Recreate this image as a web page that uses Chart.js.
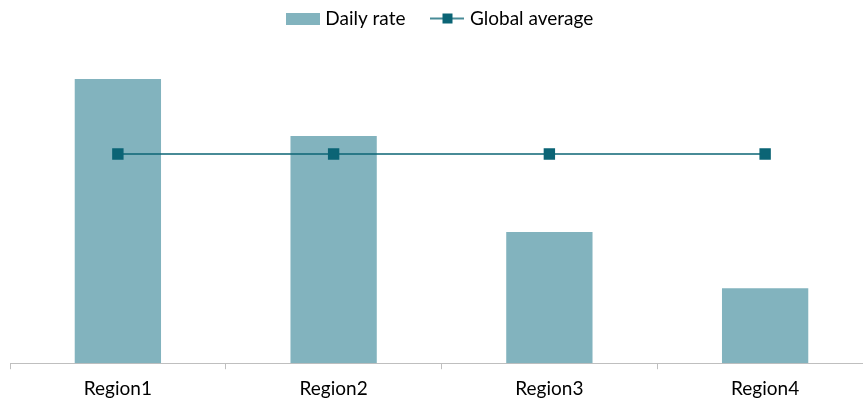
<!DOCTYPE html>
<html>
<head>
<meta charset="utf-8">
<script src="https://cdn.jsdelivr.net/npm/chart.js@4"></script>
<style>
html,body{margin:0;padding:0;background:#fff;overflow:hidden;width:863px;height:400px;}
#wrap{position:relative;width:893px;height:400px;}
#c{position:absolute;left:0;top:-20px;}
</style>
</head>
<body>
<div id="wrap"><canvas id="c" width="893" height="428"></canvas></div>
<script>
const categories = ['Region1', 'Region2', 'Region3', 'Region4'];
const dailyRate = [2.84, 2.27, 1.31, 0.75];
const globalAverage = [2.09, 2.09, 2.09, 2.09];
const seriesNames = ['Daily rate', 'Global average'];

const barColor = '#82B3BE';
const lineColor = '#0B6475';

function icon(kind) {
  const cv = document.createElement('canvas');
  cv.width = 34; cv.height = 12;
  const g = cv.getContext('2d');
  if (kind === 'bar') {
    g.fillStyle = barColor;
    g.fillRect(0, 0, 34, 12);
  } else {
    g.strokeStyle = lineColor;
    g.lineWidth = 1.5;
    g.beginPath(); g.moveTo(0, 6); g.lineTo(34, 6); g.stroke();
    g.fillStyle = lineColor;
    g.fillRect(12, 1, 10, 10);
  }
  return cv;
}
const icons = [icon('bar'), icon('line')];

new Chart(document.getElementById('c'), {
  data: {
    labels: categories,
    datasets: [
      {
        type: 'line', label: seriesNames[1], data: globalAverage,
        borderColor: lineColor, backgroundColor: lineColor, borderWidth: 1.5,
        pointStyle: 'rect', pointRadius: 7, pointHoverRadius: 7, order: 0
      },
      {
        type: 'bar', label: seriesNames[0], data: dailyRate,
        backgroundColor: barColor, barPercentage: 0.4, categoryPercentage: 1, order: 1
      }
    ]
  },
  options: {
    responsive: false, animation: false,
    layout: { padding: { left: 10, right: 20, top: 0, bottom: 0 } },
    plugins: {
      tooltip: { enabled: false },
      legend: {
        position: 'top',
        labels: {
          usePointStyle: true, pointStyleWidth: 26,
          font: { family: 'Lato', size: 19 }, color: '#000', padding: 29,
          sort: (a, b) => b.datasetIndex - a.datasetIndex,
          generateLabels: (chart) => {
            const items = Chart.defaults.plugins.legend.labels.generateLabels(chart);
            items.forEach(it => { it.pointStyle = icons[it.datasetIndex === 1 ? 0 : 1]; });
            return items;
          }
        }
      }
    },
    scales: {
      x: {
        grid: { display: true, drawOnChartArea: false, offset: true, tickLength: 6, color: '#BFBFBF' },
        border: { display: true, color: '#BFBFBF', width: 1 },
        ticks: { font: { family: 'Lato', size: 19 }, color: '#000', padding: 8 }
      },
      y: { display: false, min: 0, max: 3.25 }
    }
  }
});
</script>
</body>
</html>
